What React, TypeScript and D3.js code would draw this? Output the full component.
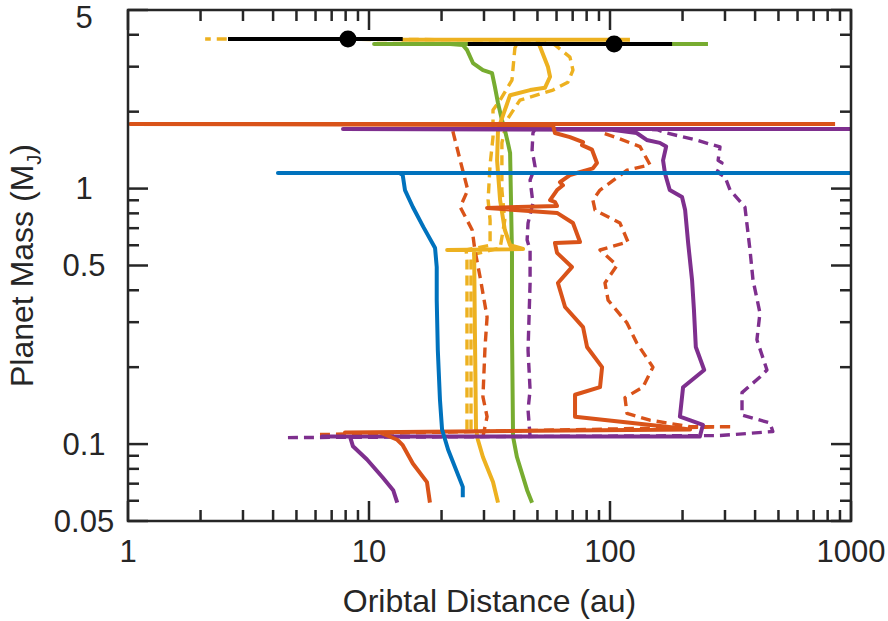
import React from "react";
import * as d3 from "d3";

type Pt = [number, number]; // [orbital distance (au), planet mass (MJ)]

// simulated tracks
const blueSolid: Pt[] = [
  [24.5, 0.062], [24.5, 0.068], [21.3, 0.095], [20.1, 0.114], [19.7, 0.149], [19.3, 0.233],
  [19.1, 0.366], [19.1, 0.493], [18.8, 0.585], [16.8, 0.708], [15.2, 0.847], [14.1, 0.987],
  [13.8, 1.13], [13.4, 1.15], [4.19, 1.15], [1000, 1.15],
];

const yellowSolid: Pt[] = [
  [34.3, 0.059], [32.7, 0.071], [29.7, 0.089], [28.3, 0.104], [27.8, 0.114], [27.5, 0.28],
  [27.3, 0.575], [21.1, 0.575], [43.6, 0.58], [38.5, 0.6], [36.6, 0.69], [35.0, 0.9],
  [34.0, 1.29], [34.3, 1.7], [36.0, 1.94], [38.5, 2.32], [46.6, 2.43], [53.7, 2.48],
  [56.4, 2.74], [55.3, 2.99], [51.3, 3.58], [49.8, 3.82], [13.8, 3.82], [121, 3.82],
];

const yellowDashA: Pt[] = [
  [25.5, 0.114], [25.5, 0.28], [25.5, 0.525], [25.3, 0.575], [31.8, 0.6], [31.8, 0.753],
  [31.2, 0.902], [31.8, 1.24], [32.7, 1.59], [32.7, 2.03], [35.0, 2.22], [39.2, 2.66],
  [40.3, 3.55], [41.5, 3.75],
];

const yellowDashB: Pt[] = [
  [26.5, 0.114], [26.5, 0.28], [26.5, 0.55], [35.0, 0.585], [36.6, 0.753], [35.6, 0.987],
  [35.6, 1.51], [37.4, 1.86], [42.3, 2.22], [58.0, 2.43], [66.9, 2.61], [70.2, 2.91],
  [68.2, 3.27], [59.1, 3.65], [53.7, 3.82], [2.09, 3.85],
];

const greenSolid: Pt[] = [
  [47.5, 0.059], [45.3, 0.066], [41.1, 0.089], [39.6, 0.107], [39.2, 0.28], [39.2, 0.56],
  [38.5, 1.38], [37.7, 1.51], [36.6, 1.7], [35.6, 1.86], [34.3, 2.16], [33.3, 2.5],
  [32.4, 2.83], [29.7, 2.91], [27.0, 3.1], [25.5, 3.49], [24.5, 3.65], [21.7, 3.68],
  [10.5, 3.68], [255, 3.68],
];

const purpleSolid: Pt[] = [
  [13.1, 0.059], [12.6, 0.066], [11.4, 0.074], [9.81, 0.087], [8.58, 0.098], [8.34, 0.107],
  [6.38, 0.107], [236, 0.107], [243, 0.119], [195, 0.128], [201, 0.167], [246, 0.195],
  [227, 0.24], [223, 0.335], [219, 0.439], [211, 0.612], [205, 0.824], [199, 0.927],
  [177, 0.987], [169, 1.15], [166, 1.29], [171, 1.46], [161, 1.51], [142, 1.55],
  [129, 1.65], [102, 1.7], [7.8, 1.71], [1000, 1.71],
];

const purpleDashE: Pt[] = [
  [46.6, 0.107], [45.7, 0.136], [46.6, 0.163], [45.7, 0.233], [46.6, 0.427], [46.6, 0.575],
  [45.3, 0.629], [45.7, 0.733], [47.9, 0.878], [46.6, 1.08], [48.9, 1.215], [47.5, 1.416],
  [47.9, 1.651], [48.9, 1.711],
];

const purpleDashF: Pt[] = [
  [4.61, 0.106], [286, 0.108], [474, 0.112], [461, 0.121], [353, 0.13], [353, 0.159],
  [419, 0.183], [448, 0.195], [407, 0.256], [419, 0.326], [392, 0.439], [381, 0.575],
  [363, 0.847], [315, 0.987], [300, 1.11], [278, 1.16], [291.5, 1.26], [281, 1.29],
  [286, 1.455], [227, 1.55], [172, 1.65], [156.7, 1.7], [133, 1.71],
];

const orangeSolid: Pt[] = [
  [17.9, 0.059], [17.4, 0.071], [15.2, 0.084], [13.8, 0.099], [13.1, 0.104], [11.1, 0.111],
  [7.95, 0.111], [215, 0.114], [172, 0.117], [71.6, 0.128], [71.6, 0.156], [90.9, 0.167],
  [92.7, 0.2], [80.3, 0.24], [77.3, 0.287], [65.1, 0.344], [60.8, 0.427], [69.5, 0.493],
  [60.3, 0.56], [59.1, 0.612], [75.1, 0.618], [70.2, 0.733], [60.3, 0.803], [30.9, 0.84],
  [60.3, 0.855], [59.1, 0.886], [56.4, 0.902], [60.3, 0.987], [63.8, 1.03], [62.0, 1.06],
  [68.2, 1.13], [84.9, 1.2], [88.3, 1.26], [84.2, 1.42], [76.5, 1.48], [77.3, 1.52],
  [68.2, 1.59], [59.1, 1.65], [58.0, 1.77], [1.02, 1.79], [859, 1.79],
];

const orangeDashC: Pt[] = [
  [29.7, 0.107], [30.9, 0.128], [29.7, 0.153], [30.3, 0.24], [30.9, 0.314], [28.9, 0.451],
  [27.5, 0.575], [26.8, 0.689], [23.9, 0.847], [25.7, 0.987], [23.9, 1.29], [22.3, 1.67],
  [22.1, 1.76],
];

const orangeDashD: Pt[] = [
  [6.26, 0.109], [324, 0.117], [215, 0.117], [146.5, 0.124], [117.6, 0.132], [115.4, 0.152],
  [137, 0.167], [150.7, 0.2], [129, 0.249], [117.6, 0.298], [98.2, 0.366], [95.3, 0.427],
  [106.9, 0.5], [90.9, 0.575], [118.8, 0.618], [110, 0.733], [86.7, 0.824], [84.9, 0.902],
  [90.9, 0.987], [117.6, 1.18], [146.5, 1.24], [133.2, 1.46], [106.9, 1.58], [93.6, 1.65],
  [90.9, 1.73],
];

// observed planets: [distance, mass], distance range
const obsDist = [8.18, 104];
const obsMass = [3.85, 3.68];
const obsLow = [2.6, 25.7];
const obsHigh = [13.8, 181];

const xTicks = [1, 10, 100, 1000];
const xTickLabels = ["1", "10", "100", "1000"];
const yTicks = [0.05, 0.1, 0.5, 1, 5];
const yTickLabels = ["0.05", "0.1", "0.5", "1", "5"];
const xMinor = [2, 3, 4, 5, 6, 7, 8, 9, 20, 30, 40, 50, 60, 70, 80, 90, 200, 300, 400, 500, 600, 700, 800, 900];
const yMinor = [0.06, 0.07, 0.08, 0.09, 0.2, 0.3, 0.4, 0.6, 0.7, 0.8, 0.9, 2, 3, 4];

const BLUE = "#0072BD";
const ORANGE = "#D95319";
const YELLOW = "#EDB120";
const PURPLE = "#7E2F8E";
const GREEN = "#77AC30";
const AXIS = "#262626";
const FONT = "'Liberation Sans', Arial, Helvetica, sans-serif";

const tracks = [
  { data: yellowDashA, color: YELLOW, dashed: true },
  { data: yellowDashB, color: YELLOW, dashed: true },
  { data: purpleDashE, color: PURPLE, dashed: true },
  { data: purpleDashF, color: PURPLE, dashed: true },
  { data: orangeDashC, color: ORANGE, dashed: true },
  { data: orangeDashD, color: ORANGE, dashed: true },
  { data: greenSolid, color: GREEN, dashed: false },
  { data: yellowSolid, color: YELLOW, dashed: false },
  { data: purpleSolid, color: PURPLE, dashed: false },
  { data: orangeSolid, color: ORANGE, dashed: false },
  { data: blueSolid, color: BLUE, dashed: false },
];

export default function App() {
  const width = 888;
  const height = 621;
  const left = 128, right = 851, top = 10, bottom = 521;

  const x = d3.scaleLog().domain([1, 1000]).range([left, right]);
  const y = d3.scaleLog().domain([0.05, 5]).range([bottom, top]);

  const line = d3.line<Pt>().x((d) => x(d[0])).y((d) => y(d[1]));

  const majorLen = 20;
  const minorLen = 11;

  return (
    <svg width={width} height={height} style={{ position: "absolute", left: 0, top: 0, background: "#fff" }}>
      <g fill="none" strokeLinejoin="round" strokeLinecap="butt">
        {tracks.map((t, i) => (
          <path
            key={i}
            d={line(t.data) || ""}
            stroke={t.color}
            strokeWidth={t.dashed ? 3.4 : 4}
            strokeDasharray={t.dashed ? "10,6" : undefined}
          />
        ))}
      </g>

      {/* observed planets with distance ranges */}
      {obsDist.map((d, i) => (
        <g key={i}>
          <line x1={x(obsLow[i])} x2={x(obsHigh[i])} y1={y(obsMass[i])} y2={y(obsMass[i])} stroke="#000" strokeWidth={4} />
          <circle cx={x(d)} cy={y(obsMass[i])} r={8.5} fill="#000" />
        </g>
      ))}

      {/* axes box and ticks */}
      <g stroke={AXIS} strokeWidth={2.5}>
        {xMinor.map((v) => (
          <g key={"xm" + v}>
            <line x1={x(v)} x2={x(v)} y1={bottom} y2={bottom - minorLen} />
            <line x1={x(v)} x2={x(v)} y1={top} y2={top + minorLen} />
          </g>
        ))}
        {xTicks.map((v) => (
          <g key={"xM" + v}>
            <line x1={x(v)} x2={x(v)} y1={bottom} y2={bottom - majorLen} />
            <line x1={x(v)} x2={x(v)} y1={top} y2={top + majorLen} />
          </g>
        ))}
        {yMinor.map((v) => (
          <g key={"ym" + v}>
            <line x1={left} x2={left + minorLen} y1={y(v)} y2={y(v)} />
            <line x1={right} x2={right - minorLen} y1={y(v)} y2={y(v)} />
          </g>
        ))}
        {yTicks.map((v) => (
          <g key={"yM" + v}>
            <line x1={left} x2={left + majorLen} y1={y(v)} y2={y(v)} />
            <line x1={right} x2={right - majorLen} y1={y(v)} y2={y(v)} />
          </g>
        ))}
        <rect x={left} y={top} width={right - left} height={bottom - top} fill="none" />
      </g>

      <g fontFamily={FONT} fontSize={31} fill={AXIS}>
        {xTicks.map((v, i) => (
          <text key={"xl" + v} x={x(v)} y={562} textAnchor="middle">
            {xTickLabels[i]}
          </text>
        ))}
        {yTicks.map((v, i) => (
          <text key={"yl" + v} x={84} y={Math.max(y(v), 17)} dy="0.35em" textAnchor="middle">
            {yTickLabels[i]}
          </text>
        ))}
        <text x={(left + right) / 2} y={612} textAnchor="middle" fontSize={32}>
          Oribtal Distance (au)
        </text>
        <text transform={`translate(33,${(top + bottom) / 2}) rotate(-90)`} textAnchor="middle" fontSize={32}>
          Planet Mass (M
          <tspan fontSize={20} dy={8}>J</tspan>
          <tspan dy={-8}>)</tspan>
        </text>
      </g>
    </svg>
  );
}
